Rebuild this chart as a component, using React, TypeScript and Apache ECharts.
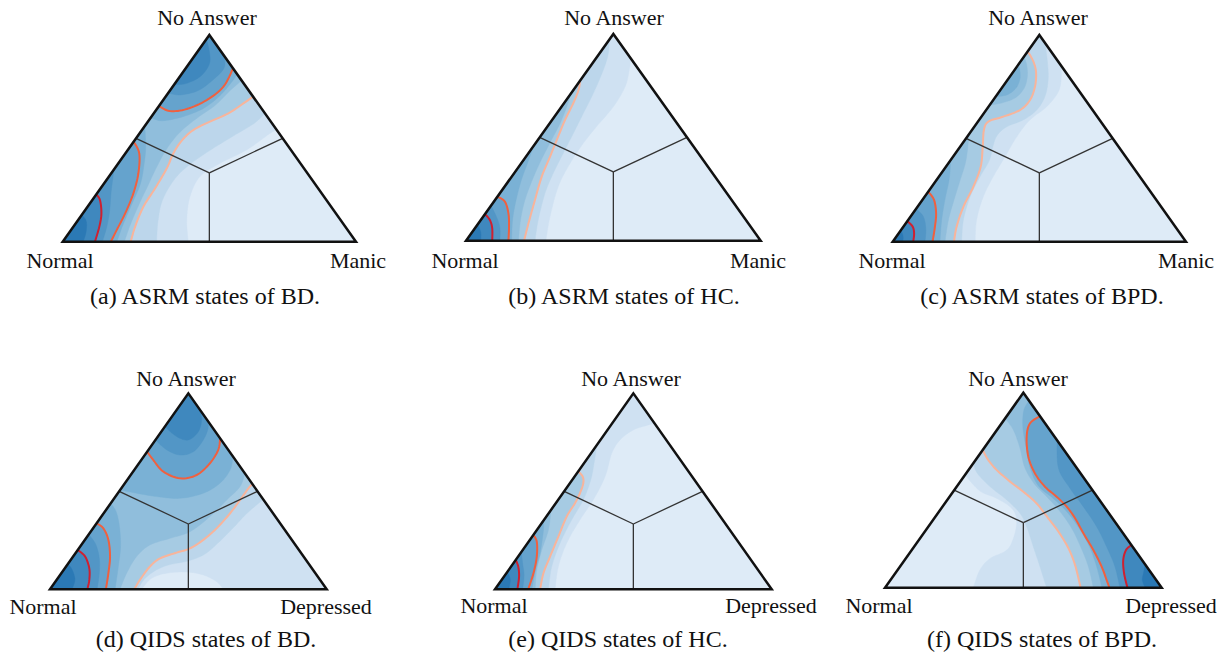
import React, { useEffect, useRef } from "react";
import * as echarts from "echarts";

type Pt = [number, number];
type Band = { level: number; close: string; pts: Pt[]; line?: "low" | "mid" | "high" };

// Position inside each simplex plot: x (0 = Normal corner, 100 = right corner), y (0 = base, 100 = "No Answer" corner)
const bandColors = ["#deebf7", "#cfe1f2", "#bcd6eb", "#a6cbe3", "#90bedc", "#7ab1d5", "#65a3cd", "#5296c6", "#3f88be", "#2b79b5"];
const lineColors: Record<string, string> = { low: "#f8b49b", mid: "#f0603f", high: "#cf2030" };

const triangleVertices: Pt[] = [[0, 0], [100, 0], [50, 100]];
const cornerByCode: Record<string, Pt> = { L: [0, 0], R: [100, 0], T: [50, 100] };
const centroid: Pt = [50, 100 / 3];
const edgeMidpoints: Pt[] = [[25, 50], [75, 50], [50, 0]];

const bandsA: Band[] = [
  { level: 1, close: "TL", pts: [[42.8, 0], [42.3, 10.5], [43.4, 21.8], [46.8, 31.5], [53.6, 37.9], [62.7, 44.4], [70.7, 52.4], [73, 54]] },
  { level: 2, close: "TL", pts: [[32, 0], [32.5, 10], [34, 20], [38, 30], [43, 37], [50, 44], [58, 51], [65, 57], [69, 62]] },
  { level: 3, close: "TL", line: "low", pts: [[23.2, 0], [24.7, 7.3], [27.5, 16.9], [31.5, 25.8], [35.5, 35.5], [37.7, 42.7], [40.6, 48.9], [44.5, 54], [50.2, 58.1], [56.5, 62.1], [61.6, 66.9], [64.9, 70.2]] },
  { level: 4, close: "TL", pts: [[21, 0], [23, 8], [26, 18], [29, 27], [32, 36], [35.5, 45], [40, 53], [46, 60], [52, 66], [57, 73], [61, 78]] },
  { level: 5, close: "L", pts: [[18.5, 0], [20.5, 8], [23.5, 18], [26.5, 28], [27.8, 38], [28.3, 46], [28, 56]] },
  { level: 5, close: "T", pts: [[30, 60], [34, 58.5], [41, 60.5], [48, 64.5], [53.5, 70.5], [57.5, 77], [59.5, 81]] },
  { level: 6, close: "L", line: "mid", pts: [[24.2, 48.4], [26.1, 42.7], [25.8, 33.1], [24.1, 23.4], [21.3, 13.7], [18.4, 5.6], [16.4, 0]] },
  { level: 6, close: "T", line: "mid", pts: [[32.8, 65.6], [36.6, 63.2], [42.3, 64.2], [49.1, 68.5], [54.8, 75], [58.1, 83.9]] },
  { level: 7, close: "L", pts: [[13.5, 0], [15, 7], [16, 15], [16.5, 24], [17.5, 35]] },
  { level: 7, close: "T", pts: [[36, 72], [40, 71], [46, 73], [51, 78], [55, 84], [55, 90]] },
  { level: 8, close: "L", line: "high", pts: [[11.45, 22.9], [12.7, 20.2], [13.2, 13.7], [12.5, 7.3], [11, 0]] },
  { level: 8, close: "", pts: [[38, 76], [42, 76.5], [47, 80], [50, 86], [50, 92], [49, 98]] },
  { level: 9, close: "L", pts: [[7, 0], [8, 5], [8, 10], [6.5, 13]] },
];

const bandsB: Band[] = [
  { level: 1, close: "TL", pts: [[27.1, 0], [28.5, 11.6], [31.3, 26.1], [35.3, 37.4], [39.8, 47.1], [44.3, 55.2], [50, 64.8], [54, 74.5], [55.4, 82.6], [55.9, 88.2]] },
  { level: 2, close: "L", pts: [[23.4, 0], [24.5, 10], [26.8, 22.9], [29.6, 32.6], [33, 42.3], [36.4, 51.9], [39.8, 61.6], [43.2, 71.3], [46.6, 82.6], [48.3, 90.6], [48.55, 97.1]] },
  { level: 3, close: "L", line: "low", pts: [[19.7, 0], [21.2, 8.4], [23.4, 19.7], [25.7, 31], [28.5, 40.6], [30.8, 48.7], [33.6, 58.4], [36.4, 66.5], [38.2, 73], [38.7, 77.4]] },
  { level: 4, close: "L", pts: [[17.8, 0], [18.5, 10], [20, 19.7], [22.5, 29.4], [25.5, 39], [29, 48.7], [32, 57], [34.5, 66], [35.3, 70.6]] },
  { level: 5, close: "L", pts: [[15.5, 0], [15.8, 10], [17, 19.7], [18.8, 29.4], [21, 38], [23, 46]] },
  { level: 6, close: "L", line: "mid", pts: [[10.7, 21.3], [13.2, 18.9], [14.4, 13.2], [14.6, 6.8], [14.4, 0]] },
  { level: 7, close: "L", pts: [[11.5, 0], [11.5, 6], [10.5, 11], [8.5, 17]] },
  { level: 8, close: "L", line: "high", pts: [[6.45, 12.9], [8.1, 10], [8.9, 6], [8.9, 0]] },
  { level: 9, close: "L", pts: [[5, 0], [5, 4], [4, 8]] },
];

const bandsC: Band[] = [
  { level: 1, close: "TL", pts: [[28.1, 0], [28.6, 10.5], [30.9, 21.8], [34.3, 31.5], [38.3, 41.1], [42.3, 50.8], [46.8, 58.9], [52.5, 65.3], [56.5, 72.6], [57.5, 79.8], [57.3, 85.5]] },
  { level: 2, close: "TL", pts: [[23.5, 0], [24.1, 10.5], [26.4, 21.8], [29.8, 31.5], [33, 39.5], [34.3, 46.8], [35.7, 51.6], [38.9, 55.6], [44.5, 58.9], [49.1, 63.7], [51.9, 70.2], [53, 78.2], [52.8, 86.3], [52, 96]] },
  { level: 3, close: "L", line: "low", pts: [[20.9, 0], [21.8, 7.3], [24.1, 16.9], [27.5, 26.6], [30, 36.3], [30.7, 46], [31.1, 54], [32.6, 58.1], [37.7, 60.5], [43.4, 63.7], [46.8, 68.5], [48.5, 75], [48.9, 81.5], [48.2, 86.3], [46.8, 90.3], [45.95, 91.9]] },
  { level: 4, close: "L", pts: [[17.8, 0], [19, 10.5], [20.9, 20.2], [23, 29.8], [25, 39.5], [26.05, 52.1]] },
  { level: 4, close: "", pts: [[33.05, 66.1], [37.7, 67.3], [42, 69.8], [44.8, 74.2], [45.9, 79.8], [45.7, 85.5], [44.75, 89.5]] },
  { level: 5, close: "L", pts: [[16.1, 0], [16.7, 10.5], [17.8, 20.2], [19.3, 30.6], [19.75, 39.5]] },
  { level: 5, close: "", pts: [[35.1, 70.2], [38.9, 71], [42, 74.2], [43.4, 79], [43.2, 83.9], [42.35, 84.7]] },
  { level: 6, close: "L", line: "mid", pts: [[12.1, 24.2], [14.1, 20.2], [14.8, 13.7], [14.4, 7.3], [13.6, 0]] },
  { level: 7, close: "L", pts: [[11, 0], [11.3, 6], [10.5, 12], [8, 16]] },
  { level: 8, close: "L", line: "high", pts: [[5, 10], [6.8, 7.3], [7.3, 4], [7, 0]] },
  { level: 9, close: "L", pts: [[3.5, 0], [3.5, 3], [2.75, 5.5]] },
];

const bandsD: Band[] = [
  { level: 1, close: "RTL", pts: [[33.1, 0], [36.7, 5.6], [42.2, 8.2], [49.4, 8.8], [55.4, 7.3], [60.2, 3.9], [62.7, 0]] },
  { level: 2, close: "TL", pts: [[31.8, 0], [34, 5], [38, 9.5], [43, 12.5], [50, 14.5], [56, 18], [61, 24], [66, 31], [71, 38.5], [77.05, 45.9]] },
  { level: 3, close: "TL", line: "low", pts: [[30.5, 0], [32.5, 4.8], [36.1, 11.6], [39.8, 15.8], [45.8, 18.7], [50.6, 20.9], [55.4, 25.2], [60.2, 31.1], [65.1, 38.8], [68.7, 45.6], [71.7, 51.5], [73.15, 53.7]] },
  { level: 4, close: "TL", pts: [[25.3, 0], [27.7, 8.2], [31.3, 16.7], [36.1, 22.6], [43.4, 26], [50.6, 29.4], [57.8, 37.1], [63.9, 45.6], [68.7, 52.4], [70.4, 59.2]] },
  { level: 5, close: "L", pts: [[23.5, 0], [24.7, 11.6], [25.5, 21.8], [25.1, 32], [23.9, 39.6], [21.95, 43.9]] },
  { level: 5, close: "T", pts: [[25.35, 50.7], [31.3, 49], [38.6, 47.3], [47, 46.4], [55.4, 49], [61.4, 54.1], [65.1, 60.9], [66.15, 67.7]] },
  { level: 6, close: "L", line: "mid", pts: [[16.85, 33.7], [19.3, 31.1], [21.1, 25.2], [21.7, 16.7], [21.1, 8.2], [20.2, 0]] },
  { level: 6, close: "T", line: "mid", pts: [[35.1, 70.2], [37.3, 66], [41, 60], [47, 56.6], [53, 58.3], [57.8, 64.3], [60.8, 71.1], [61.5, 77]] },
  { level: 7, close: "L", pts: [[17, 0], [17.8, 8], [17.8, 16], [16.5, 23], [14, 28]] },
  { level: 7, close: "T", pts: [[38.1, 76.2], [42.2, 71.1], [47, 68.5], [51.8, 70.2], [55.4, 76.2], [57.2, 83], [56.1, 87.8]] },
  { level: 8, close: "L", line: "high", pts: [[10.05, 20.1], [12.7, 16.7], [14.2, 10.7], [14.2, 4.8], [13.5, 0]] },
  { level: 8, close: "T", pts: [[41.5, 83], [45.8, 77.9], [50, 76.2], [53.6, 80.4], [54.8, 86.4], [54.25, 91.5]] },
  { level: 9, close: "L", pts: [[8, 0], [9, 5], [8, 10], [6.5, 13]] },
];

const bandsE: Band[] = [
  { level: 1, close: "TL", pts: [[21.7, 0], [22.9, 11.6], [25.9, 23.5], [30.7, 35.4], [35.5, 45.6], [39.8, 57.5], [42.2, 69.4], [45.2, 76.2], [50, 81.3], [55.4, 83.8], [57.65, 84.7]] },
  { level: 2, close: "L", pts: [[19.3, 0], [20.5, 11.6], [23.5, 23.5], [27.7, 35.4], [31.9, 45.6], [34.6, 55.8], [35.8, 64.3], [36.8, 73.6]] },
  { level: 3, close: "L", line: "low", pts: [[16.3, 0], [17.5, 8.2], [19.9, 16.7], [22.9, 26.9], [25.9, 37.1], [28.9, 43.9], [30.7, 49], [31.9, 54.1], [31.7, 57.5], [30.1, 60.2]] },
  { level: 4, close: "L", pts: [[14.5, 0], [15.1, 9.9], [16.9, 20.1], [19.3, 30.3], [20.25, 40.5]] },
  { level: 5, close: "L", pts: [[13.3, 0], [14.7, 9.9], [16.3, 18.4], [17.5, 30], [17.5, 35]] },
  { level: 6, close: "L", line: "mid", pts: [[13.85, 27.7], [15.1, 24.3], [15.1, 16.7], [13.9, 8.2], [12, 0]] },
  { level: 7, close: "L", pts: [[10, 0], [10.5, 7], [10, 13], [9.5, 19]] },
  { level: 8, close: "L", line: "high", pts: [[7.5, 15], [8.4, 11.6], [8.7, 6.5], [8.1, 0]] },
  { level: 9, close: "L", pts: [[5, 0], [5.5, 5], [4.5, 9]] },
];

const bandsF: Band[] = [
  { level: 1, close: "TR", pts: [[31.9, 0], [34.3, 9.1], [38, 15], [44, 19.3], [46.6, 26.2], [47.6, 34.7], [45.8, 40.7], [40.4, 45.8], [34.3, 49.6], [28.9, 57.8]] },
  { level: 2, close: "TR", pts: [[58.4, 0], [56, 10.8], [53.6, 21], [51.2, 31.3], [48.8, 38.1], [44, 45], [38, 51.8], [33.4, 58.6], [31.9, 63.8]] },
  { level: 3, close: "RT", line: "low", pts: [[35.3, 70.6], [37.3, 65.5], [40.4, 60.3], [45.2, 54.4], [50, 49.2], [54.8, 43.2], [59, 35.6], [62.7, 28.7], [66.3, 20.2], [68.7, 11.6], [70.7, 0]] },
  { level: 4, close: "TR", pts: [[75.3, 0], [73.5, 10.8], [70.7, 21], [67.5, 30.4], [63.3, 39], [58.7, 46.3], [54, 53.2], [50.5, 61.7], [48.8, 71.5], [46.4, 80.9], [43.4, 86.8]] },
  { level: 5, close: "R", pts: [[78.4, 0], [76.5, 10.8], [73.9, 21], [70.2, 30.4], [65.7, 39], [60.8, 45.8], [55.5, 52.1], [52.5, 61.2], [51, 71.5], [49.8, 82.6], [50.2, 91.1], [52.05, 95.9]] },
  { level: 6, close: "R", line: "mid", pts: [[56, 88], [52.4, 84.3], [51.2, 77.4], [51.8, 67.2], [54.2, 58.6], [57.8, 51.8], [62, 46.7], [65.7, 41.5], [68.7, 35.6], [71.7, 27.9], [75.3, 19.3], [78.3, 10.8], [80.1, 3.9], [81.1, 0]] },
  { level: 7, close: "R", pts: [[84.9, 0], [83.1, 10.8], [80.1, 21], [76.5, 31.3], [71.7, 41.5], [66.9, 50.9], [62.7, 61.2], [62.15, 75.7]] },
  { level: 8, close: "R", line: "high", pts: [[89.05, 21.9], [87.1, 19.3], [86.1, 14.2], [86.4, 7.4], [87.6, 0]] },
  { level: 9, close: "R", pts: [[94, 0], [93, 4], [93.5, 8], [94, 12]] },
];

const panelBands = [bandsA, bandsB, bandsC, bandsD, bandsE, bandsF];
const vertexNamesASRM = ["Normal", "Manic", "No Answer"];
const vertexNamesQIDS = ["Normal", "Depressed", "No Answer"];
const panelVertexNames = [vertexNamesASRM, vertexNamesASRM, vertexNamesASRM, vertexNamesQIDS, vertexNamesQIDS, vertexNamesQIDS];
const captions = [
  "(a) ASRM states of BD.",
  "(b) ASRM states of HC.",
  "(c) ASRM states of BPD.",
  "(d) QIDS states of BD.",
  "(e) QIDS states of HC.",
  "(f) QIDS states of BPD.",
];

// layout (pixels)
const layout = [
  { x0: 62.7, x1: 356, yTop: 35, yBase: 241.7, lab: [[60, 260], [358, 260], [207, 17]], cap: [205, 295.5] },
  { x0: 466, x1: 760.7, yTop: 34, yBase: 240.7, lab: [[465, 260], [758, 260], [614, 17]], cap: [624, 295.5] },
  { x0: 892.7, x1: 1186, yTop: 35, yBase: 241.7, lab: [[892, 260], [1186, 260], [1038, 17]], cap: [1042, 295.5] },
  { x0: 50, x1: 326.7, yTop: 393.3, yBase: 589.3, lab: [[43, 606], [326, 606], [186, 378]], cap: [206, 638.5] },
  { x0: 495, x1: 771.7, yTop: 393.3, yBase: 589.3, lab: [[494, 605], [771, 605], [631, 378]], cap: [618, 638.5] },
  { x0: 885, x1: 1161.7, yTop: 392.7, yBase: 587.7, lab: [[879, 605], [1171, 605], [1018, 378]], cap: [1042, 638.5] },
];

function smoothPath(p: number[][], seg = 8): number[][] {
  if (p.length < 3) return p.slice();
  const out: number[][] = [];
  for (let i = 0; i < p.length - 1; i++) {
    const p0 = p[i - 1] || p[i];
    const p1 = p[i];
    const p2 = p[i + 1];
    const p3 = p[i + 2] || p[i + 1];
    for (let t = 0; t < seg; t++) {
      const s = t / seg, s2 = s * s, s3 = s2 * s;
      const f = (k: number) =>
        0.5 * (2 * p1[k] + (-p0[k] + p2[k]) * s + (2 * p0[k] - 5 * p1[k] + 4 * p2[k] - p3[k]) * s2 + (-p0[k] + 3 * p1[k] - 3 * p2[k] + p3[k]) * s3);
      out.push([f(0), f(1)]);
    }
  }
  out.push(p[p.length - 1]);
  return out;
}

function buildOption() {
  const grid: any[] = [];
  const xAxis: any[] = [];
  const yAxis: any[] = [];
  const series: any[] = [];
  const graphic: any[] = [];
  const labelFont = '22px "Liberation Serif", serif';
  const capFont = '24px "Liberation Serif", serif';

  layout.forEach((l, i) => {
    grid.push({ left: l.x0, top: l.yTop, width: l.x1 - l.x0, height: l.yBase - l.yTop, show: false });
    xAxis.push({ type: "value", gridIndex: i, min: 0, max: 100, show: false });
    yAxis.push({ type: "value", gridIndex: i, min: 0, max: 100, show: false });
    const bands = panelBands[i];
    const common = { type: "custom", coordinateSystem: "cartesian2d", xAxisIndex: i, yAxisIndex: i, silent: true, animation: false };

    series.push({
      ...common,
      data: [[0, 0]],
      renderItem: (_p: any, api: any) => ({
        type: "polygon",
        shape: { points: triangleVertices.map((v) => api.coord(v)) },
        style: { fill: bandColors[0] },
      }),
    });

    series.push({
      ...common,
      data: bands.map(() => [0, 0]),
      renderItem: (params: any, api: any) => {
        const b = bands[params.dataIndex];
        const curve = smoothPath(b.pts.map((p) => api.coord(p)));
        const closing = b.close.split("").filter(Boolean).map((c) => api.coord(cornerByCode[c]));
        return {
          type: "polygon",
          shape: { points: curve.concat(closing) },
          style: { fill: bandColors[b.level], stroke: bandColors[b.level], lineWidth: 0.4 },
        };
      },
    });

    const lined = bands.filter((b) => b.line);
    series.push({
      ...common,
      data: lined.map(() => [0, 0]),
      renderItem: (params: any, api: any) => {
        const b = lined[params.dataIndex];
        const curve = smoothPath(b.pts.map((p) => api.coord(p)));
        return {
          type: "polyline",
          shape: { points: curve },
          style: { fill: "none", stroke: lineColors[b.line as string], lineWidth: 2 },
        };
      },
    });

    series.push({
      ...common,
      data: [[0, 0]],
      renderItem: (_p: any, api: any) => {
        const c = api.coord(centroid);
        const children: any[] = edgeMidpoints.map((m) => ({
          type: "line",
          shape: { x1: c[0], y1: c[1], x2: api.coord(m)[0], y2: api.coord(m)[1] },
          style: { stroke: "#333", lineWidth: 1.3 },
        }));
        children.push({
          type: "polygon",
          shape: { points: triangleVertices.map((v) => api.coord(v)) },
          style: { fill: "none", stroke: "#111", lineWidth: 2.5, lineJoin: "miter" },
        });
        return { type: "group", children };
      },
    });

    const names = panelVertexNames[i];
    names.forEach((n, k) => {
      graphic.push({
        type: "text",
        x: l.lab[k][0],
        y: l.lab[k][1],
        silent: true,
        style: { text: n, font: labelFont, fill: "#111", textAlign: "center", textVerticalAlign: "middle" },
      });
    });
    graphic.push({
      type: "text",
      x: l.cap[0],
      y: l.cap[1],
      silent: true,
      style: { text: captions[i], font: capFont, fill: "#111", textAlign: "center", textVerticalAlign: "middle" },
    });
  });

  return { animation: false, backgroundColor: "#ffffff", grid, xAxis, yAxis, series, graphic };
}

export default function App() {
  const ref = useRef<HTMLDivElement>(null);
  useEffect(() => {
    if (!ref.current) return;
    const chart = echarts.init(ref.current, undefined, { renderer: "svg" });
    chart.setOption(buildOption() as any);
    return () => chart.dispose();
  }, []);
  return <div ref={ref} style={{ position: "absolute", left: 0, top: 0, width: 1224, height: 657 }} />;
}
